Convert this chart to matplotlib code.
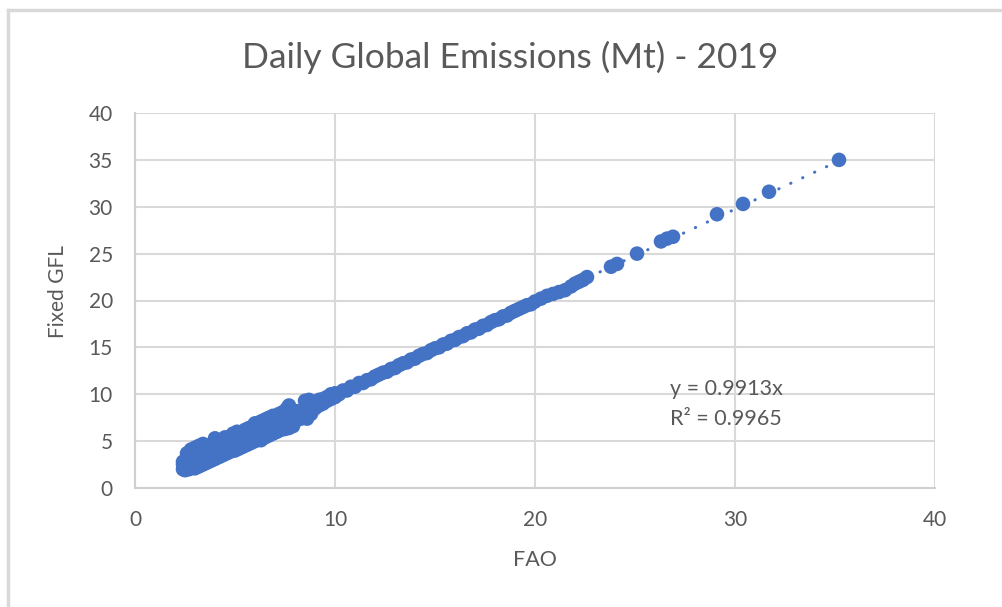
import matplotlib
matplotlib.use("Agg")
import matplotlib.pyplot as plt
from matplotlib.lines import Line2D
import numpy as np

plt.rcParams['font.family'] = ['Lato', 'DejaVu Sans']

title = "Daily Global Emissions (Mt) - 2019"
x_label = "FAO"
y_label = "Fixed GFL"
x_ticks = [0, 10, 20, 30, 40]
y_ticks = [0, 5, 10, 15, 20, 25, 30, 35, 40]
slope = 0.9913
r2 = 0.9965

# dense low region (FAO, Fixed GFL)
fao_low = [2.4, 2.4, 2.4, 2.5, 2.5, 2.6, 2.6, 2.6, 2.7, 2.7, 2.8, 2.8, 2.8, 2.9,
           3.0, 3.0, 3.0, 3.0, 3.1, 3.1, 3.2, 3.2, 3.2, 3.3, 3.3, 3.4, 3.4, 3.4, 3.4,
           3.5, 3.5, 3.6, 3.6, 3.6, 3.7, 3.7, 3.8, 3.8, 3.8, 3.9, 3.9,
           4.0, 4.0, 4.0, 4.0, 4.1, 4.1, 4.2, 4.2, 4.2, 4.3, 4.3, 4.4, 4.4, 4.4,
           4.5, 4.5, 4.5, 4.6, 4.6, 4.7, 4.7, 4.7, 4.8, 4.8, 4.9, 4.9, 4.9,
           5.0, 5.0, 5.0, 5.1, 5.1, 5.1, 5.2, 5.2, 5.3, 5.3, 5.3, 5.4, 5.4,
           5.5, 5.5, 5.5, 5.6, 5.6, 5.7, 5.7, 5.7, 5.8, 5.8, 5.9, 5.9, 5.9,
           6.0, 6.0, 6.0, 6.0, 6.2, 6.2, 6.2, 6.3, 6.3, 6.3, 6.4, 6.4,
           6.5, 6.5, 6.5, 6.6, 6.6, 6.7, 6.7, 6.7, 6.7, 6.8, 6.8, 6.9, 6.9, 6.9,
           7.0, 7.0, 7.0, 7.1, 7.1, 7.2, 7.2, 7.2, 7.3, 7.3, 7.4, 7.4, 7.4,
           7.5, 7.5, 7.6, 7.6, 7.6, 7.7, 7.7, 7.7, 7.8, 7.8, 7.8, 7.9, 7.9,
           8.0, 8.0, 8.1, 8.1, 8.3, 8.3, 8.5, 8.5, 8.5, 8.6, 8.6, 8.7, 8.7, 8.8, 8.8,
           9.0, 9.0, 9.2, 9.2, 9.4, 9.4, 9.6, 9.6, 9.8, 9.8, 10.0, 10.0]
gfl_low = [2.0, 2.5, 2.8, 1.9, 2.3, 2.1, 3.0, 3.7, 2.0, 2.6, 2.2, 3.3, 4.1, 2.4,
           2.1, 2.9, 3.6, 4.3, 2.5, 3.9, 2.3, 3.2, 4.5, 2.7, 3.6, 2.5, 3.0, 4.2, 4.7,
           2.8, 3.5, 2.7, 3.9, 4.4, 3.1, 3.3, 2.9, 3.7, 4.6, 3.3, 4.1,
           3.1, 3.8, 4.4, 5.3, 3.5, 4.9, 3.3, 4.0, 4.6, 3.7, 5.1, 3.5, 4.2, 4.8,
           3.9, 4.5, 5.4, 3.7, 4.4, 4.0, 4.9, 5.3, 3.9, 4.6, 4.2, 5.0, 5.8,
           4.0, 4.7, 5.4, 4.4, 5.1, 6.0, 4.2, 4.9, 4.6, 5.3, 5.9, 4.4, 5.0,
           4.8, 5.5, 6.2, 4.6, 5.2, 5.0, 5.7, 6.4, 4.8, 5.4, 5.2, 5.9, 6.6,
           5.0, 5.6, 6.3, 6.9, 5.3, 5.9, 6.6, 5.1, 6.2, 7.1, 5.6, 6.8,
           5.4, 6.1, 7.3, 5.8, 6.5, 5.6, 6.3, 7.0, 7.5, 6.0, 6.7, 5.8, 6.5, 7.7,
           6.2, 6.9, 7.3, 6.0, 7.5, 6.4, 7.1, 7.9, 6.2, 6.8, 6.6, 7.4, 8.1,
           6.3, 7.0, 6.7, 7.6, 8.5, 6.4, 7.2, 8.8, 6.9, 7.9, 8.3, 6.6, 7.4,
           7.1, 7.8, 7.6, 8.2, 7.4, 8.0, 7.6, 8.4, 9.3, 7.4, 8.9, 8.2, 9.4, 7.9, 8.6,
           8.5, 9.1, 8.8, 9.4, 9.0, 9.5, 9.3, 9.7, 9.5, 10.0, 9.7, 10.1]

# narrower upper band and isolated high points
fao_high = [10.2, 10.4, 10.6, 10.8, 11.0, 11.2, 11.4, 11.6, 11.8, 12.0, 12.2, 12.4,
            12.6, 12.8, 13.0, 13.2, 13.4, 13.6, 13.8, 14.0, 14.2, 14.4, 14.6, 14.8,
            15.0, 15.2, 15.4, 15.6, 15.8, 16.0, 16.2, 16.4, 16.6, 16.8, 17.0, 17.2,
            17.4, 17.6, 17.8, 18.0, 18.2, 18.4, 18.6, 18.8, 19.0, 19.2, 19.4, 19.6,
            19.8, 20.0, 20.3, 20.6, 20.9, 21.2, 21.5, 21.8, 22.0, 22.2, 22.4, 22.6,
            23.8, 24.1, 25.1, 26.3, 26.6, 26.9, 29.1, 30.4, 31.7, 35.2]
gfl_high = [10.0, 10.4, 10.4, 10.8, 10.8, 11.2, 11.2, 11.5, 11.6, 11.9, 12.1, 12.3,
            12.4, 12.7, 12.8, 13.1, 13.3, 13.4, 13.7, 13.8, 14.1, 14.3, 14.4, 14.7,
            14.9, 15.0, 15.3, 15.4, 15.7, 15.8, 16.1, 16.2, 16.5, 16.6, 16.9, 17.0,
            17.3, 17.4, 17.7, 17.9, 18.0, 18.3, 18.4, 18.7, 18.9, 19.1, 19.3, 19.5,
            19.6, 19.9, 20.2, 20.5, 20.7, 20.9, 21.1, 21.5, 21.8, 22.0, 22.2, 22.5,
            23.6, 23.9, 25.0, 26.3, 26.6, 26.8, 29.2, 30.3, 31.6, 35.0]

fao = np.array(fao_low + fao_high)
gfl = np.array(gfl_low + gfl_high)

blue = "#4472C4"
gray_text = "#595959"
grid_c = "#D9D9D9"

fig = plt.figure(figsize=(10.03, 6.07), dpi=100)
ax = fig.add_axes([135/1003, 1-488/607, 800/1003, 375/607])

ax.set_xlim(0, 40)
ax.set_ylim(0, 40)
ax.set_xticks(x_ticks)
ax.set_yticks(y_ticks)
ax.grid(True, color=grid_c, linewidth=1.5, zorder=0)
ax.set_axisbelow(True)
for s in ["top", "right"]:
    ax.spines[s].set_visible(False)
for s in ["left", "bottom"]:
    ax.spines[s].set_color("#D0D0D0")
    ax.spines[s].set_linewidth(1.5)
ax.tick_params(length=0, labelsize=15, labelcolor=gray_text)
ax.tick_params(axis='y', pad=16)
ax.tick_params(axis='x', pad=16)

# trendline through origin
tx = np.array([fao.min(), fao.max()])
ax.plot(tx, slope * tx, color=blue, linewidth=2.2,
        linestyle=(0, (0.1, 4.2)), dash_capstyle='round', zorder=2)

ax.scatter(fao, gfl, s=110, color=blue, edgecolors='none', zorder=3, clip_on=False)

ax.text(26.75, 10.6, "y = 0.9913x", fontsize=15.5, color=gray_text, va='center', ha='left')
ax.text(26.75, 7.4, "R² = 0.9965", fontsize=15.5, color=gray_text, va='center', ha='left')

fig.text(510/1003, 1-57/607, title, fontsize=25.5, color=gray_text, ha='center', va='center')
fig.text(535/1003, 1-560/607, x_label, fontsize=15.5, color=gray_text, ha='center', va='center')
fig.text(58/1003, 1-291/607, y_label, fontsize=15, color=gray_text, ha='center', va='center',
         rotation=90)

# outer chart border (left and top visible)
fig.add_artist(Line2D([8/1003, 8/1003], [0, 1-10/607], transform=fig.transFigure,
                      color=grid_c, linewidth=2.5))
fig.add_artist(Line2D([8/1003, 1], [1-10/607, 1-10/607], transform=fig.transFigure,
                      color=grid_c, linewidth=2.5))

fig.savefig("out.png", dpi=100)
